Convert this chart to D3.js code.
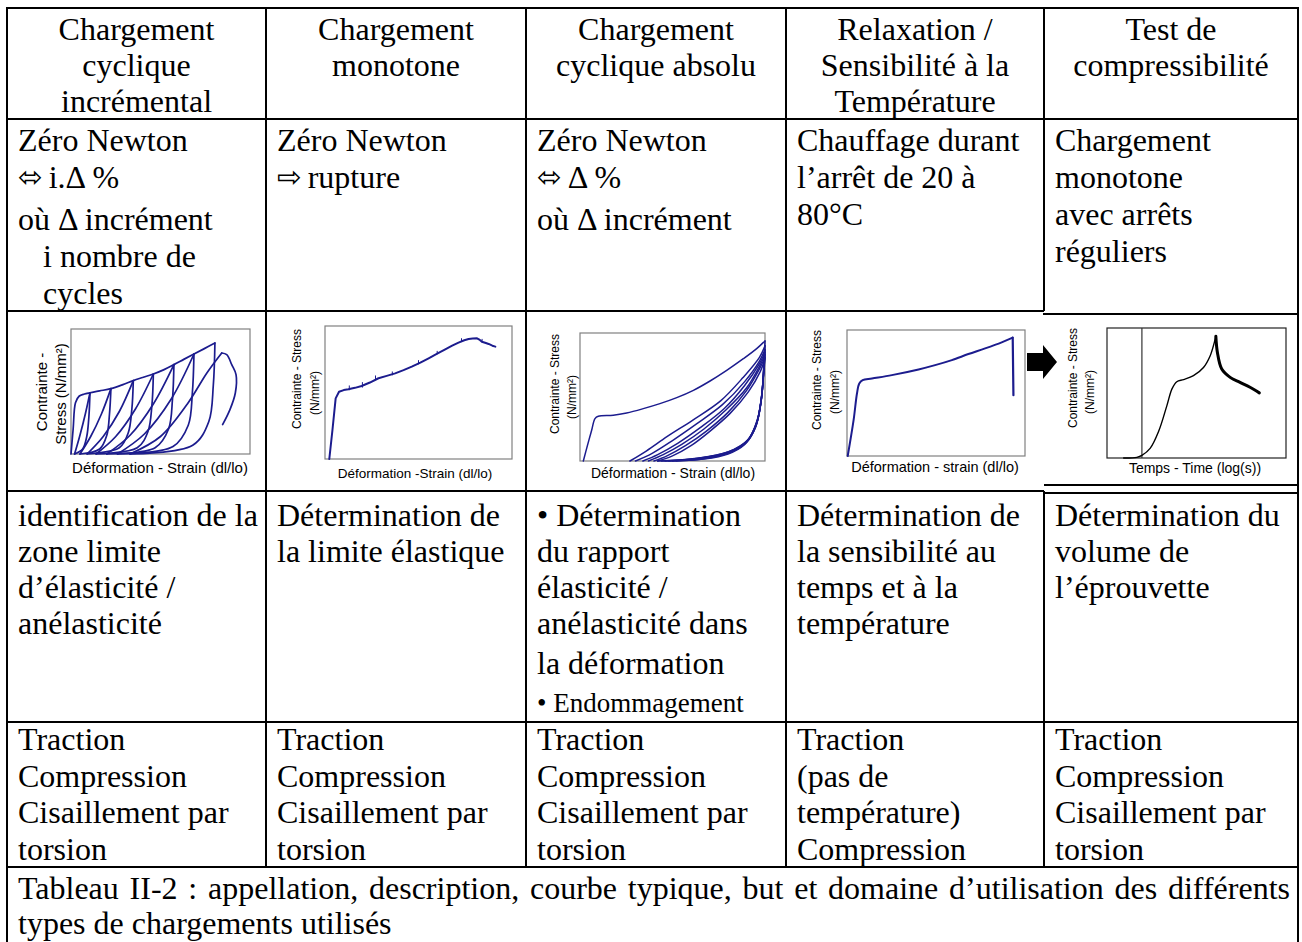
<!DOCTYPE html>
<html><head><meta charset="utf-8">
<script src="https://cdn.jsdelivr.net/npm/d3@7"></script>
<style>
body{margin:0;background:#fff;}
svg{display:block;}
</style></head>
<body>
<svg id="c" width="1302" height="942"></svg>
<script>
// ---------------- DATA ----------------
const headers = [
  ["Chargement","cyclique","incrémental"],
  ["Chargement","monotone"],
  ["Chargement","cyclique absolu"],
  ["Relaxation /","Sensibilité à la","Température"],
  ["Test de","compressibilité"]
];
const descriptions = [
  ["Zéro Newton","⬄ i.Δ %","où Δ incrément","i nombre de","cycles"],
  ["Zéro Newton","⇨ rupture"],
  ["Zéro Newton","⬄ Δ %","où Δ incrément"],
  ["Chauffage durant","l’arrêt de 20 à","80°C"],
  ["Chargement","monotone","avec arrêts","réguliers"]
];
const purposes = [
  ["identification de la","zone limite","d’élasticité /","anélasticité"],
  ["Détermination de","la limite élastique"],
  ["• Détermination","du rapport","élasticité /","anélasticité dans","la déformation","• Endommagement"],
  ["Détermination de","la sensibilité au","temps et à la","température"],
  ["Détermination du","volume de","l’éprouvette"]
];
const domains = [
  ["Traction","Compression","Cisaillement par","torsion"],
  ["Traction","Compression","Cisaillement par","torsion"],
  ["Traction","Compression","Cisaillement par","torsion"],
  ["Traction","(pas de","température)","Compression"],
  ["Traction","Compression","Cisaillement par","torsion"]
];
const captionLine1 = "Tableau II-2 : appellation, description, courbe typique, but et domaine d’utilisation des différents";
const captionLine2 = "types de chargements utilisés";

const chartXLabels = ["Déformation - Strain (dl/lo)","Déformation -Strain (dl/lo)","Déformation - Strain (dl/lo)","Déformation - strain (dl/lo)","Temps - Time (log(s))"];
const chartYLabels = [["Contrainte -","Stress (N/mm²)"],["Contrainte - Stress","(N/mm²)"],["Contrainte - Stress","(N/mm²)"],["Contrainte - Stress","(N/mm²)"],["Contrainte - Stress","(N/mm²)"]];

// Chart 1 : cyclic incremental (normalised strain, stress)
const incrementalEnvelope = [[0,0],[0.012,0.2],[0.025,0.41],[0.045,0.462],[0.075,0.48],[0.106,0.49],[0.16,0.505],[0.223,0.523],[0.29,0.555],[0.348,0.587],[0.40,0.612],[0.46,0.64],[0.52,0.675],[0.575,0.715],[0.63,0.757],[0.687,0.8],[0.745,0.843],[0.804,0.888]];
const incrementalUnload = [
  [[0.106,0.49],[0.1,0.3],[0.088,0.14],[0.065,0.04],[0.02,0]],
  [[0.223,0.523],[0.215,0.32],[0.2,0.15],[0.16,0.04],[0.05,0]],
  [[0.348,0.587],[0.34,0.36],[0.32,0.17],[0.27,0.05],[0.09,0]],
  [[0.46,0.64],[0.452,0.39],[0.43,0.18],[0.37,0.05],[0.14,0]],
  [[0.575,0.715],[0.567,0.44],[0.545,0.2],[0.47,0.05],[0.2,0]],
  [[0.687,0.8],[0.678,0.49],[0.655,0.23],[0.57,0.06],[0.26,0]],
  [[0.804,0.888],[0.795,0.55],[0.77,0.26],[0.68,0.07],[0.33,0]]
];
const incrementalReload = [
  [[0.02,0],[0.05,0.15],[0.08,0.32],[0.106,0.49]],
  [[0.05,0],[0.11,0.14],[0.17,0.32],[0.223,0.523]],
  [[0.09,0],[0.18,0.14],[0.27,0.34],[0.348,0.587]],
  [[0.14,0],[0.25,0.14],[0.36,0.36],[0.46,0.64]],
  [[0.2,0],[0.33,0.15],[0.46,0.4],[0.575,0.715]],
  [[0.26,0],[0.41,0.16],[0.56,0.44],[0.687,0.8]],
  [[0.33,0],[0.5,0.14],[0.65,0.4],[0.76,0.65],[0.842,0.808]]
];
const incrementalRupture = [[0.842,0.808],[0.87,0.795],[0.898,0.715],[0.922,0.635],[0.918,0.488],[0.888,0.355],[0.847,0.235]];

// Chart 2 : monotone
const monotoneCurve = [[0.023,0],[0.04,0.22],[0.057,0.456],[0.075,0.506],[0.1,0.518],[0.125,0.524],[0.16,0.535],[0.196,0.549],[0.24,0.575],[0.286,0.607],[0.33,0.625],[0.375,0.644],[0.42,0.668],[0.464,0.694],[0.51,0.725],[0.554,0.757],[0.6,0.792],[0.643,0.825],[0.68,0.852],[0.714,0.875],[0.745,0.893],[0.768,0.902],[0.79,0.906],[0.813,0.907],[0.828,0.895],[0.839,0.882],[0.86,0.872],[0.875,0.865],[0.895,0.852],[0.911,0.845]];
const monotoneSpikes = [[0.13,0.52,0.55],[0.2,0.54,0.575],[0.27,0.595,0.625],[0.36,0.632,0.655],[0.5,0.715,0.74],[0.6,0.79,0.81],[0.73,0.885,0.905],[0.84,0.88,0.9]];

// Chart 3 : absolute cyclic
const absoluFirstLoad = [[0.018,0],[0.04,0.12],[0.063,0.24],[0.081,0.331],[0.099,0.349],[0.18,0.357],[0.252,0.375],[0.342,0.409],[0.432,0.448],[0.523,0.495],[0.613,0.552],[0.703,0.625],[0.793,0.708],[0.883,0.799],[0.955,0.878],[1.0,0.938]];
const absoluReload = [
  [[0.27,0],[0.36,0.08],[0.47,0.19],[0.61,0.32],[0.76,0.47],[0.88,0.65],[0.97,0.81],[1.0,0.9]],
  [[0.3,0],[0.39,0.06],[0.5,0.16],[0.63,0.29],[0.77,0.44],[0.89,0.62],[0.97,0.78],[1.0,0.87]],
  [[0.34,0],[0.42,0.05],[0.53,0.14],[0.65,0.26],[0.78,0.41],[0.89,0.59],[0.97,0.76],[1.0,0.85]],
  [[0.37,0],[0.45,0.05],[0.55,0.13],[0.67,0.25],[0.79,0.4],[0.9,0.57],[0.97,0.74],[1.0,0.83]],
  [[0.4,0],[0.47,0.04],[0.57,0.12],[0.68,0.23],[0.8,0.38],[0.9,0.55],[0.97,0.72],[1.0,0.81]],
  [[0.42,0],[0.5,0.04],[0.6,0.12],[0.7,0.23],[0.81,0.37],[0.91,0.54],[0.975,0.7],[1.0,0.8]]
];
const absoluUnload = [
  [[1.0,0.938],[0.995,0.78],[0.985,0.55],[0.96,0.33],[0.91,0.17],[0.8,0.07],[0.62,0.02],[0.42,0]],
  [[1.0,0.9],[0.994,0.74],[0.983,0.52],[0.958,0.31],[0.905,0.16],[0.8,0.07],[0.63,0.02],[0.44,0]],
  [[1.0,0.87],[0.993,0.72],[0.982,0.5],[0.955,0.3],[0.9,0.15],[0.8,0.065],[0.64,0.02],[0.46,0]],
  [[1.0,0.85],[0.993,0.7],[0.98,0.48],[0.952,0.28],[0.9,0.145],[0.8,0.06],[0.65,0.018],[0.48,0]],
  [[1.0,0.83],[0.992,0.68],[0.978,0.46],[0.95,0.27],[0.895,0.14],[0.8,0.06],[0.66,0.015],[0.5,0]],
  [[1.0,0.81],[0.992,0.66],[0.977,0.45],[0.948,0.26],[0.89,0.13],[0.8,0.055],[0.67,0.015],[0.52,0]]
];

// Chart 4 : relaxation
const relaxationCurve = [[0.004,0],[0.037,0.284],[0.056,0.496],[0.069,0.576],[0.088,0.602],[0.14,0.615],[0.252,0.642],[0.402,0.687],[0.495,0.721],[0.589,0.761],[0.682,0.809],[0.776,0.854],[0.869,0.902],[0.931,0.939]];
const relaxationDrop = [[0.931,0.939],[0.935,0.483]];

// Chart 5 : compressibility (log time)
const compressStart = 0.195;
const compressLoad = [[0.093,0],[0.167,0.005],[0.195,0.02],[0.242,0.076],[0.288,0.203],[0.335,0.405],[0.363,0.532],[0.39,0.587],[0.428,0.603],[0.483,0.633],[0.539,0.696],[0.576,0.785],[0.599,0.886],[0.608,0.937]];
const compressRelax = [[0.608,0.937],[0.617,0.81],[0.641,0.684],[0.688,0.62],[0.743,0.582],[0.799,0.544],[0.851,0.501]];

// ---------------- LAYOUT ----------------
const svg = d3.select("#c");
const colX = [7, 266, 526, 786, 1044, 1298];
const SERIF = "'Liberation Serif','Times New Roman',serif";
const SANS = "'Liberation Sans',Arial,sans-serif";
const SYM = "'DejaVu Sans',sans-serif";
const ink = "#000";
const curveColor = "#1c1c8e";

// --- table lines ---
const L = svg.append("g").attr("stroke", ink).attr("stroke-width", 2).attr("fill","none");
function hl(x1,x2,y){ L.append("line").attr("x1",x1).attr("x2",x2).attr("y1",y).attr("y2",y); }
function vl(x,y1,y2){ L.append("line").attr("x1",x).attr("x2",x).attr("y1",y1).attr("y2",y2); }
hl(colX[0]-1, colX[5]+1, 8);
hl(colX[0], colX[5], 119);
hl(colX[0], colX[4], 311);
hl(colX[4]-1, colX[5], 314);
hl(colX[0], colX[4], 491);
hl(colX[4], colX[5], 485);
hl(colX[4], colX[5], 493);
hl(colX[0], colX[5], 722);
hl(colX[0], colX[5], 867);
vl(colX[0], 7, 942);
vl(colX[5], 7, 942);
[1,2,3].forEach(i=>{ vl(colX[i], 8, 867); });
vl(colX[4], 8, 311);
vl(colX[4], 491, 867);

// --- text helpers ---
function writeLine(x, y, str, size, anchor){
  const t = svg.append("text").attr("x", x).attr("y", y)
    .attr("font-family", SERIF).attr("font-size", size).attr("fill", ink)
    .attr("text-anchor", anchor || "start");
  const m = str.match(/^([⬄⇨])\s(.*)$/);
  if (m){
    t.append("tspan").attr("font-family", SYM).attr("font-size", size*0.92).attr("dy", -1).text(m[1]);
    t.append("tspan").attr("dx", 6).attr("dy", 1).text(m[2]);
  } else t.text(str);
  return t;
}

// header
const headerBase = [40, 76, 112];
headers.forEach((lines, c) => {
  const cx = (colX[c] + colX[c+1]) / 2;
  lines.forEach((s, i) => writeLine(cx, headerBase[i], s, 32, "middle"));
});

// description row
descriptions.forEach((lines, c) => {
  const extra = (c === 0 || c === 2) ? 5 : 0;
  lines.forEach((s, i) => {
    const y = 151 + i * 37 + (i >= 2 ? extra : 0);
    const indent = (c === 0 && i >= 3) ? 25 : 0;
    writeLine(colX[c] + 11, y, s, 32).attr("x", colX[c] + 11 + indent);
  });
});

// purpose row
purposes.forEach((lines, c) => {
  lines.forEach((s, i) => {
    let y = 526 + i * 36;
    if (c === 2 && i >= 4) y = 674 + (i - 4) * 38;
    const size = (c === 2 && i === 5) ? 27 : 32;
    writeLine(colX[c] + 11, y, s, size);
  });
});

// domain row
domains.forEach((lines, c) => {
  lines.forEach((s, i) => writeLine(colX[c] + 11, 750 + i * 36.7, s, 32));
});

// caption (justified first line)
(function(){
  const words = captionLine1.split(" ");
  const x0 = 18, x1 = 1290, y = 899;
  const nodes = words.map(w => svg.append("text").attr("y", y)
      .attr("font-family", SERIF).attr("font-size", 32).attr("fill", ink).text(w));
  const widths = nodes.map(n => n.node().getComputedTextLength());
  const total = d3.sum(widths);
  const gap = (x1 - x0 - total) / (words.length - 1);
  let x = x0;
  nodes.forEach((n, i) => { n.attr("x", x); x += widths[i] + gap; });
  writeLine(x0, 934, captionLine2, 32);
})();

// --- charts ---
const boxes = [
  {x0:71, x1:250, y0:329, y1:454, stroke:"#808080", xl:[160,467], yl:[[41,60],[392,394]], fs:15, yfs:15},
  {x0:325, x1:512, y0:326, y1:459, stroke:"#808080", xl:[415,473], yl:[[297,315],[379,393]], fs:13.5, yfs:12},
  {x0:580, x1:765, y0:333, y1:461, stroke:"#808080", xl:[673,473], yl:[[555,572],[384,397]], fs:14, yfs:12},
  {x0:847, x1:1025, y0:330, y1:456, stroke:"#808080", xl:[935,467], yl:[[817,835],[380,392]], fs:14.5, yfs:12},
  {x0:1107, x1:1286, y0:328, y1:458, stroke:"#222", xl:[1195,468], yl:[[1073,1090],[378,392]], fs:14, yfs:12}
];

function makeChart(i){
  const b = boxes[i];
  const x = d3.scaleLinear().domain([0,1]).range([b.x0, b.x1]);
  const y = d3.scaleLinear().domain([0,1]).range([b.y1, b.y0]);
  const g = svg.append("g");
  g.append("rect").attr("x", b.x0).attr("y", b.y0).attr("width", b.x1-b.x0).attr("height", b.y1-b.y0)
    .attr("fill","none").attr("stroke", b.stroke).attr("stroke-width",1.2);
  g.append("text").attr("x", b.xl[0]).attr("y", b.xl[1]).attr("dominant-baseline","central")
    .attr("text-anchor","middle").attr("font-family", SANS).attr("font-size", b.fs).text(chartXLabels[i]);
  chartYLabels[i].forEach((s, k) => {
    g.append("text").attr("transform", `translate(${b.yl[0][k]},${b.yl[1][k]}) rotate(-90)`)
      .attr("dominant-baseline","central").attr("text-anchor","middle")
      .attr("font-family", SANS).attr("font-size", b.yfs).text(s);
  });
  return {g, x, y};
}
function drawLine(ch, data, color, width, smooth){
  const line = d3.line().x(d=>ch.x(d[0])).y(d=>ch.y(d[1]))
    .curve(smooth === false ? d3.curveLinear : d3.curveCatmullRom.alpha(0.5));
  ch.g.append("path").datum(data).attr("d", line).attr("fill","none")
    .attr("stroke", color).attr("stroke-width", width).attr("stroke-linejoin","round").attr("stroke-linecap","round");
}

// chart 1
(function(){
  const ch = makeChart(0);
  drawLine(ch, incrementalEnvelope, curveColor, 1.7);
  incrementalUnload.forEach(d => drawLine(ch, d, curveColor, 1.7));
  incrementalReload.forEach(d => drawLine(ch, d, curveColor, 1.7));
  drawLine(ch, incrementalRupture, curveColor, 1.7);
})();
// chart 2
(function(){
  const ch = makeChart(1);
  drawLine(ch, monotoneCurve, curveColor, 2, false);
  monotoneSpikes.forEach(s => drawLine(ch, [[s[0],s[1]],[s[0],s[2]]], curveColor, 1, false));
})();
// chart 3
(function(){
  const ch = makeChart(2);
  drawLine(ch, absoluFirstLoad, curveColor, 1.5);
  absoluReload.forEach(d => drawLine(ch, d, curveColor, 1.5));
  absoluUnload.forEach(d => drawLine(ch, d, curveColor, 1.5));
})();
// chart 4
(function(){
  const ch = makeChart(3);
  drawLine(ch, relaxationCurve, curveColor, 2);
  drawLine(ch, relaxationDrop, curveColor, 2.2, false);
})();
// chart 5
(function(){
  const ch = makeChart(4);
  ch.g.append("line").attr("x1", ch.x(compressStart)).attr("x2", ch.x(compressStart))
    .attr("y1", ch.y(0)).attr("y2", ch.y(1)).attr("stroke","#333").attr("stroke-width",1.2);
  drawLine(ch, compressLoad, "#000", 1.4);
  drawLine(ch, compressRelax, "#000", 3);
})();

// black arrow between chart 4 and chart 5
svg.append("path").attr("transform","translate(1027,345)")
  .attr("d","M0,8 H16 V0 L30,17 L16,34 V26 H0 Z").attr("fill","#000");
</script>
</body></html>
